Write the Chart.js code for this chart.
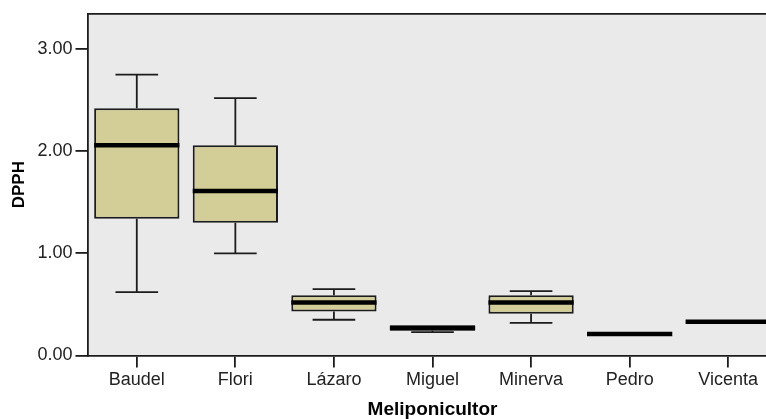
<!DOCTYPE html>
<html>
<head>
<meta charset="utf-8">
<script src="https://cdn.jsdelivr.net/npm/chart.js@4"></script>
<style>
  html, body { margin: 0; padding: 0; background: #ffffff; overflow: hidden; }
  #wrap { position: relative; width: 780px; height: 419px; }
</style>
</head>
<body>
<div id="wrap"><canvas id="chart"></canvas></div>
<script>
// DPPH by beekeeper: five-number summaries per box
const categories = ['Baudel', 'Flori', 'Lázaro', 'Miguel', 'Minerva', 'Pedro', 'Vicenta'];
const minValues    = [0.62, 1.00, 0.35, 0.228, 0.32, 0.21, 0.33];
const q1Values     = [1.34, 1.30, 0.43, 0.242, 0.41, 0.21, 0.33];
const medianValues = [2.06, 1.61, 0.52, 0.27, 0.52, 0.21, 0.33];
const q3Values     = [2.42, 2.06, 0.59, 0.296, 0.59, 0.21, 0.33];
const maxValues    = [2.75, 2.52, 0.65, 0.296, 0.63, 0.21, 0.33];
const yTicks = [0, 1, 2, 3];

const FONT = "'Liberation Sans', Arial, Helvetica, sans-serif";
const INK = '#1c1c1c';
const PLOT_BG = '#eaeaea';
const BOX_FILL = '#d3ce98';

// plot background, frame, whiskers and medians
const boxplotPlugin = {
  id: 'boxplotParts',
  beforeDraw(chart) {
    const { ctx, chartArea: a } = chart;
    ctx.save();
    ctx.fillStyle = PLOT_BG;
    ctx.fillRect(a.left, a.top, a.right - a.left, a.bottom - a.top);
    ctx.restore();
  },
  beforeDatasetsDraw(chart) {
    const { ctx } = chart;
    const y = chart.scales.y;
    const meta = chart.getDatasetMeta(0);
    ctx.save();
    ctx.strokeStyle = INK;
    ctx.lineWidth = 1.8;
    meta.data.forEach((bar, i) => {
      const x = bar.x;
      const cap = bar.width / 4;
      // [whisker end, box edge]
      const segs = [[maxValues[i], q3Values[i]], [minValues[i], q1Values[i]]];
      segs.forEach(([end, edge]) => {
        if (end === edge) return;
        const ye = y.getPixelForValue(end);
        const yb = y.getPixelForValue(edge);
        ctx.beginPath();
        ctx.moveTo(x, yb);
        ctx.lineTo(x, ye);
        ctx.moveTo(x - cap, ye);
        ctx.lineTo(x + cap, ye);
        ctx.stroke();
      });
    });
    ctx.restore();
  },
  afterDatasetsDraw(chart) {
    const { ctx } = chart;
    const y = chart.scales.y;
    const meta = chart.getDatasetMeta(0);
    ctx.save();
    ctx.strokeStyle = '#000000';
    ctx.lineWidth = 4.5;
    meta.data.forEach((bar, i) => {
      const ym = y.getPixelForValue(medianValues[i]);
      ctx.beginPath();
      ctx.moveTo(bar.x - bar.width / 2, ym);
      ctx.lineTo(bar.x + bar.width / 2, ym);
      ctx.stroke();
    });
    ctx.restore();
  },
  afterDraw(chart) {
    const { ctx, chartArea: a } = chart;
    ctx.save();
    ctx.strokeStyle = INK;
    ctx.lineWidth = 1.8;
    ctx.beginPath();
    ctx.moveTo(a.left, a.top);
    ctx.lineTo(a.right, a.top);
    ctx.lineTo(a.right, a.bottom);
    ctx.stroke();
    ctx.restore();
  }
};

new Chart(document.getElementById('chart'), {
  type: 'bar',
  data: {
    labels: categories,
    datasets: [{
      data: categories.map((_, i) => [q1Values[i], q3Values[i]]),
      backgroundColor: BOX_FILL,
      borderColor: INK,
      borderWidth: 2,
      borderSkipped: false,
      barPercentage: 0.865,
      categoryPercentage: 1
    }]
  },
  options: {
    responsive: true,
    maintainAspectRatio: false,
    animation: false,
    layout: { padding: { top: 12.5, right: 2.5, left: 0, bottom: 0 } },
    plugins: { legend: { display: false }, tooltip: { enabled: false } },
    scales: {
      x: {
        offset: true,
        grid: { offset: false, drawOnChartArea: false, tickLength: 12, color: INK, tickColor: INK, lineWidth: 1.8 },
        border: { display: true, color: INK, width: 1.8 },
        ticks: { color: '#222', padding: 2, font: { family: FONT, size: 18 }, maxRotation: 0, autoSkip: false },
        title: { display: true, text: 'Meliponicultor', color: '#000', padding: { top: 0, bottom: 0 },
                 font: { family: FONT, size: 19, weight: 'bold', lineHeight: 1 } },
        afterFit(scale) { scale.height = 63.5; }
      },
      y: {
        min: 0,
        max: 3.346,
        afterBuildTicks(scale) { scale.ticks = yTicks.map(v => ({ value: v })); },
        grid: { drawOnChartArea: false, tickLength: 12, color: INK, tickColor: INK, lineWidth: 1.8 },
        border: { display: true, color: INK, width: 1.8 },
        ticks: { color: '#222', padding: 3, font: { family: FONT, size: 18 }, callback: v => Number(v).toFixed(2) },
        title: { display: true, text: 'DPPH', color: '#000', padding: { top: 11, bottom: 0 },
                 font: { family: FONT, size: 17, weight: 'bold', lineHeight: 1 } },
        afterFit(scale) { scale.width = 87.5; }
      }
    }
  },
  plugins: [boxplotPlugin]
});
</script>
</body>
</html>
